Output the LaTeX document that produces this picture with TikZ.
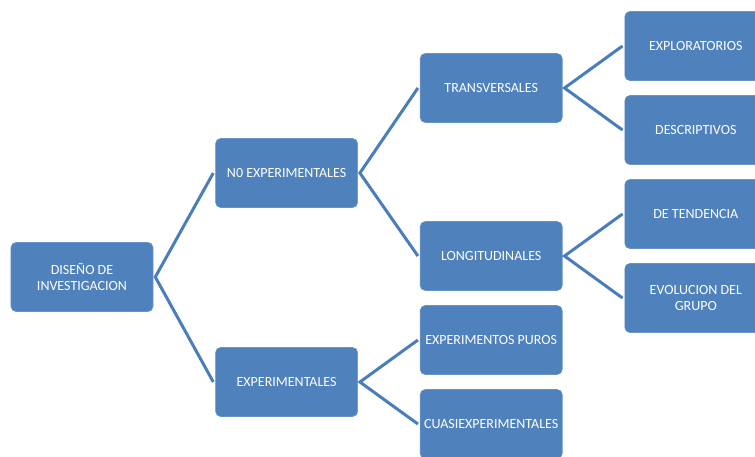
\documentclass[tikz,border=0pt]{standalone}
\usepackage{fontspec}
\setmainfont{Carlito}
\usepackage{tikz}
\usetikzlibrary{positioning}

\definecolor{boxblue}{HTML}{4F81BD}
\definecolor{lineblue}{HTML}{4A7EBB}

\begin{document}
\begin{tikzpicture}[
    x=1pt, y=1pt,
    node distance=62pt,
    box/.style={rectangle, rounded corners=5pt, fill=boxblue, draw=boxblue!85!white, line width=0.6pt, text=white, align=center, minimum width=142pt, minimum height=69pt, font=\fontsize{14}{16}\selectfont, inner sep=1pt},
    link/.style={draw=lineblue, line width=3pt, line join=miter}
]
\useasboundingbox (-82,-179) rectangle (673,277);

\node[box] (root) {DISEÑO DE\\INVESTIGACION};

\node[box, right=of root, yshift=104pt] (noexp) {N0 EXPERIMENTALES};
\node[box, right=of root, yshift=-105pt] (exp) {EXPERIMENTALES};

\node[box, right=of noexp, yshift=85pt] (trans) {TRANSVERSALES};
\node[box, right=of noexp, yshift=-83pt] (longi) {LONGITUDINALES};
\node[box, right=of exp, yshift=42pt] (puros) {EXPERIMENTOS PUROS};
\node[box, right=of exp, yshift=-42pt] (cuasi) {CUASIEXPERIMENTALES};

\node[box, right=of trans, yshift=42pt] (explo) {EXPLORATORIOS};
\node[box, right=of trans, yshift=-42pt] (descr) {DESCRIPTIVOS};
\node[box, right=of longi, yshift=42pt] (tend) {DE TENDENCIA};
\node[box, right=of longi, yshift=-42pt] (evol) {EVOLUCION DEL\\GRUPO};

% connectors
\draw[link] ([xshift=-2pt]noexp.west) -- ([xshift=2pt]root.east) -- ([xshift=-2pt]exp.west);
\draw[link] ([xshift=-2pt]trans.west) -- ([xshift=2pt]noexp.east) -- ([xshift=-2pt]longi.west);
\draw[link] ([xshift=-2pt]puros.west) -- ([xshift=2pt]exp.east) -- ([xshift=-2pt]cuasi.west);
\draw[link] ([xshift=-2pt]explo.west) -- ([xshift=2pt]trans.east) -- ([xshift=-2pt]descr.west);
\draw[link] ([xshift=-2pt]tend.west) -- ([xshift=2pt]longi.east) -- ([xshift=-2pt]evol.west);

\end{tikzpicture}
\end{document}
